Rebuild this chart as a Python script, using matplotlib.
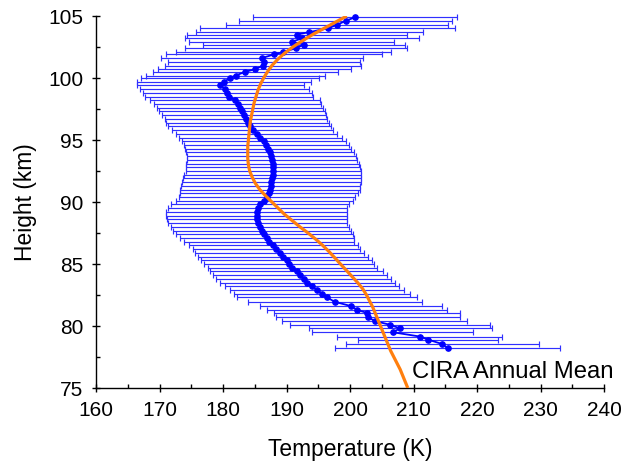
import matplotlib
matplotlib.use("Agg")
import matplotlib.pyplot as plt
from matplotlib.ticker import MultipleLocator

plt.rcParams['font.family'] = ['Liberation Sans', 'DejaVu Sans']

# Measured profile (height km, mean temperature K, symmetric error K)
height = [104.9, 104.6, 104.3, 104.0, 103.7, 103.5, 103.2, 102.9, 102.7, 102.4,
          102.1, 101.9, 101.6, 101.3, 101.0, 100.7, 100.5, 100.2, 100.0, 99.7,
          99.4, 99.1, 98.8, 98.5, 98.2, 97.9, 97.6, 97.3, 97.0, 96.7,
          96.4, 96.1, 95.8, 95.5, 95.2, 94.9, 94.6, 94.3, 94.0, 93.7,
          93.4, 93.1, 92.8, 92.5, 92.2, 91.9, 91.6, 91.3, 91.0, 90.7,
          90.4, 90.1, 89.8, 89.5, 89.2, 88.9, 88.6, 88.3, 88.0, 87.7,
          87.4, 87.1, 86.8, 86.5, 86.2, 85.9, 85.6, 85.3, 85.0, 84.7,
          84.4, 84.1, 83.8, 83.5, 83.2, 82.9, 82.6, 82.3, 81.95, 81.6,
          81.3, 81.05, 80.7, 80.4, 80.1, 79.8, 79.5, 79.15, 78.9, 78.55,
          78.2]
temp = [200.8, 199.3, 198.0, 196.5, 193.6, 191.6, 192.4, 190.8, 192.8, 191.5,
        189.5, 188.0, 186.1, 186.4, 186.3, 185.0, 183.5, 182.0, 181.1, 180.2,
        179.6, 180.3, 180.7, 180.9, 181.9, 182.3, 182.7, 183.0, 183.3, 183.6,
        183.9, 184.2, 184.7, 185.3, 185.9, 186.4, 186.8, 187.1, 187.4, 187.6,
        187.7, 187.8, 187.9, 187.9, 187.8, 187.7, 187.6, 187.5, 187.4, 187.2,
        186.9, 186.5, 185.8, 185.5, 185.3, 185.3, 185.4, 185.5, 185.8, 186.1,
        186.5, 186.9, 187.3, 187.9, 188.4, 188.9, 189.4, 190.0, 190.4, 190.9,
        191.6, 192.1, 192.7, 193.3, 194.0, 194.8, 195.6, 196.4, 197.6, 200.2,
        201.1, 202.7, 202.9, 203.9, 206.3, 207.9, 206.7, 211.0, 212.3, 214.5,
        215.4]
terr = [16.1, 16.8, 17.5, 20.1, 17.9, 17.3, 18.4, 16.2, 15.9, 17.5,
        16.9, 17.0, 15.9, 15.1, 15.5, 15.2, 14.6, 14.1, 14.0, 13.7,
        13.2, 13.3, 13.3, 13.2, 13.4, 13.1, 13.1, 13.1, 12.9, 12.8,
        12.8, 12.8, 12.7, 12.7, 12.8, 12.9, 13.0, 13.1, 13.2, 13.3,
        13.4, 13.6, 13.7, 13.8, 13.9, 14.0, 14.1, 14.1, 14.1, 14.0,
        13.9, 13.9, 14.0, 14.1, 14.2, 14.2, 14.2, 14.1, 14.0, 14.0,
        13.9, 13.7, 13.4, 13.3, 13.2, 13.3, 13.4, 13.4, 13.4, 13.3,
        13.6, 13.7, 13.8, 13.8, 13.7, 13.7, 13.9, 14.2, 13.7, 14.3,
        14.2, 14.7, 14.5, 14.6, 15.7, 14.4, 12.7, 13.0, 11.0, 15.2,
        17.7]

# CIRA annual mean profile
cira_h = [105.0, 104.5, 104.0, 103.5, 103.0, 102.5, 102.0, 101.5, 101.0, 100.5,
          100.0, 99.5, 99.0, 98.5, 98.0, 97.5, 97.0, 96.5, 96.0, 95.5,
          95.0, 94.5, 94.0, 93.5, 93.0, 92.5, 92.0, 91.5, 91.0, 90.5,
          90.0, 89.5, 89.0, 88.5, 88.0, 87.5, 87.0, 86.5, 86.0, 85.5,
          85.0, 84.5, 84.0, 83.5, 83.0, 82.5, 82.0, 81.5, 81.0, 80.5,
          80.0, 79.5, 79.0, 78.5, 78.0, 77.5, 77.0, 76.5, 76.0, 75.5, 75.0]
cira_t = [199.5, 197.7, 195.9, 194.1, 192.5, 191.0, 189.7, 188.6, 187.7, 187.0,
          186.4, 185.9, 185.5, 185.2, 184.9, 184.7, 184.5, 184.3, 184.2, 184.1,
          184.0, 183.9, 183.9, 183.9, 184.0, 184.2, 184.6, 185.1, 185.8, 186.7,
          187.7, 188.7, 189.7, 190.9, 192.1, 193.4, 194.6, 195.7, 196.7, 197.6,
          198.5, 199.4, 200.3, 201.2, 202.0, 202.6, 203.1, 203.6, 204.0, 204.4,
          204.8, 205.2, 205.6, 206.0, 206.4, 206.9, 207.4, 207.9, 208.3, 208.7, 209.1]

xticks = [160, 170, 180, 190, 200, 210, 220, 230, 240]
yticks = [75, 80, 85, 90, 95, 100, 105]

fig = plt.figure(figsize=(6.33, 4.63), dpi=100)
ax = fig.add_axes([96/633, (463-388)/463, (604-96)/633, (388-16)/463])

ax.errorbar(temp, height, xerr=terr, fmt='none', ecolor='#3030ff',
            elinewidth=0.85, capsize=2.2, capthick=0.85, zorder=2, clip_on=False)
ax.plot(temp, height, '-o', color='#0000ff', lw=1.3, ms=3.8, zorder=3, clip_on=False)
ax.plot(cira_t, cira_h, '-', color='#ff7f0e', lw=2.3, zorder=4,
        solid_capstyle='butt', solid_joinstyle='round')

ax.text(209.8, 76.25, 'CIRA Annual Mean', fontsize=17.2, ha='left', va='center')

ax.set_xlim(160, 240)
ax.set_ylim(75, 105)
ax.set_xticks(xticks)
ax.set_yticks(yticks)
ax.xaxis.set_minor_locator(MultipleLocator(5))
ax.yaxis.set_minor_locator(MultipleLocator(2.5))
for s in ['top', 'right']:
    ax.spines[s].set_visible(False)
for s in ['left', 'bottom']:
    ax.spines[s].set_linewidth(1.0)
ax.tick_params(which='major', direction='inout', length=6, width=1.0,
               labelsize=15, pad=6)
ax.tick_params(which='minor', direction='in', length=3, width=1.0)

ax.set_xlabel('Temperature (K)', fontsize=16.4, labelpad=13)
ax.set_ylabel('Height (km)', fontsize=16.4, labelpad=8)

fig.savefig('out.png', dpi=100)
